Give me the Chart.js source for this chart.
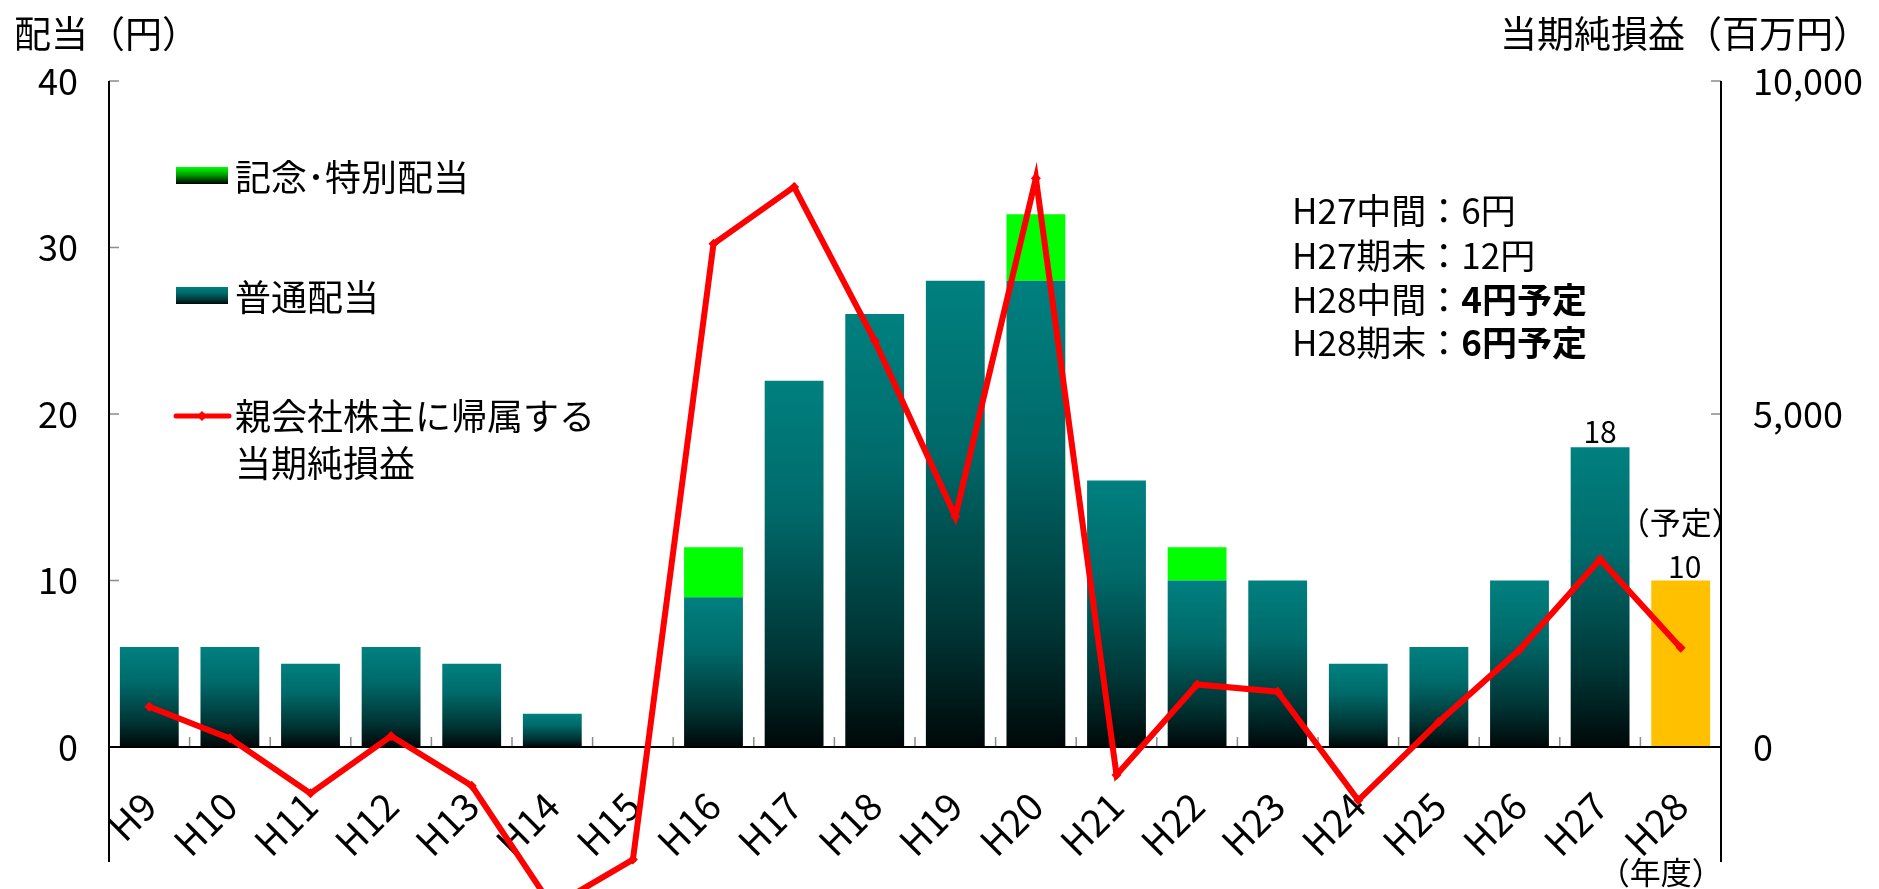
<!DOCTYPE html>
<html>
<head>
<meta charset="utf-8">
<script src="https://cdn.jsdelivr.net/npm/chart.js@4/dist/chart.umd.min.js"></script>
<style>
html,body{margin:0;padding:0;background:#fff;}
#wrap{width:1879px;height:889px;position:relative;}
</style>
</head>
<body>
<div id="wrap"><canvas id="c" width="1879" height="889"></canvas></div>
<script>
// ---- data ----
const categories = ['H9','H10','H11','H12','H13','H14','H15','H16','H17','H18','H19','H20','H21','H22','H23','H24','H25','H26','H27','H28'];
const ordinaryDividend = [6,6,5,6,5,2,0,9,22,26,28,28,16,10,10,5,6,10,18,null];
const plannedDividend  = [null,null,null,null,null,null,null,null,null,null,null,null,null,null,null,null,null,null,null,10];
const specialDividend  = [null,null,null,null,null,null,null,3,null,null,null,4,null,2,null,null,null,null,null,null];
const netIncome = [605,130,-696,165,-580,-2400,-1690,7555,8410,6100,3460,8540,-420,940,830,-800,380,1460,2820,1490];
const leftTicks = [0,10,20,30,40];
const rightTicks = [0,5000,10000];
const leftTitle = '配当（円）';
const rightTitle = '当期純損益（百万円）';
const legendLabels = ['記念･特別配当','普通配当','親会社株主に帰属する','当期純損益'];
const noteLines = [
  ['H27中間：6円',''],
  ['H27期末：12円',''],
  ['H28中間：','4円予定'],
  ['H28期末：','6円予定']
];

const FONT = '"Noto Sans CJK JP","Noto Sans",sans-serif';
Chart.defaults.font.family = FONT;
Chart.defaults.color = '#000';

function tealGradient(c, yTop, yBot){
  const g = c.createLinearGradient(0, yTop, 0, yBot);
  g.addColorStop(0, '#008080');
  g.addColorStop(0.35, '#006a6a');
  g.addColorStop(0.75, '#003535');
  g.addColorStop(1, '#000808');
  return g;
}

const ordinaryColor = (ctx) => {
  const chart = ctx.chart;
  if (!chart.chartArea || ctx.type !== 'data' || ctx.raw == null) return '#008080';
  const y = chart.scales.y;
  return tealGradient(chart.ctx, y.getPixelForValue(ctx.raw), y.getPixelForValue(0));
};

const axesPlugin = {
  id: 'axesPlugin',
  beforeDatasetDraw(chart, args){
    if (args.meta.type !== 'line') return;
    const c = chart.ctx, a = chart.chartArea;
    const x = chart.scales.x, y = chart.scales.y, y2 = chart.scales.y2;
    const y0 = y.getPixelForValue(0);
    c.save();
    c.strokeStyle = '#8c8c8c'; c.lineWidth = 1.5;
    c.beginPath();
    leftTicks.forEach(v => { const p = y.getPixelForValue(v); c.moveTo(a.left, p); c.lineTo(a.left + 10, p); });
    rightTicks.forEach(v => { const p = y2.getPixelForValue(v); c.moveTo(a.right - 10, p); c.lineTo(a.right, p); });
    const n = categories.length;
    const w = (a.right - a.left) / n;
    for (let i = 0; i <= n; i++) {
      const px = i < n ? x.getPixelForValue(i) - w / 2 : x.getPixelForValue(n - 1) + w / 2;
      c.moveTo(px, y0 - 10); c.lineTo(px, y0);
    }
    c.stroke();
    c.strokeStyle = '#000'; c.lineWidth = 2;
    c.beginPath();
    c.moveTo(a.left, a.top); c.lineTo(a.left, a.bottom);
    c.moveTo(a.right, a.top); c.lineTo(a.right, a.bottom);
    c.moveTo(a.left, y0); c.lineTo(a.right, y0);
    c.stroke();
    c.restore();
  }
};

const textPlugin = {
  id: 'textPlugin',
  afterDraw(chart){
    const c = chart.ctx;
    const x = chart.scales.x, y = chart.scales.y;
    c.save();
    c.fillStyle = '#000';
    c.textBaseline = 'middle';
    c.font = '37px ' + FONT;
    c.textAlign = 'left';
    c.fillText(leftTitle, 14, 34);
    c.fillText(rightTitle, 1500, 34);
    let g = c.createLinearGradient(0, 167, 0, 184);
    g.addColorStop(0, '#00ff00'); g.addColorStop(0.45, '#00a000'); g.addColorStop(1, '#000000');
    c.fillStyle = g; c.fillRect(176, 167, 52, 17);
    c.fillStyle = tealGradient(c, 287, 304); c.fillRect(176, 287, 52, 17);
    c.strokeStyle = '#ff0000'; c.lineWidth = 5; c.lineCap = 'round';
    c.beginPath(); c.moveTo(176, 416); c.lineTo(229, 416); c.stroke();
    c.fillStyle = '#ff0000';
    c.beginPath(); c.moveTo(202, 411); c.lineTo(207, 416); c.lineTo(202, 421); c.lineTo(197, 416); c.closePath(); c.fill();
    c.fillStyle = '#000';
    c.font = '36px ' + FONT;
    c.fillText(legendLabels[0], 235, 177);
    c.fillText(legendLabels[1], 235, 297);
    c.fillText(legendLabels[2], 235, 416);
    c.fillText(legendLabels[3], 235, 463);
    const lineY = [211, 256, 300, 343];
    noteLines.forEach((ln, i) => {
      c.font = '35px ' + FONT;
      c.fillText(ln[0], 1292, lineY[i]);
      const w0 = c.measureText(ln[0]).width;
      if (ln[1]) {
        c.font = 'bold 35px ' + FONT;
        c.fillText(ln[1], 1292 + w0, lineY[i]);
      }
    });
    c.textAlign = 'center';
    c.font = '30px ' + FONT;
    const i27 = 18, i28 = 19;
    c.fillText(String(ordinaryDividend[i27]), x.getPixelForValue(i27), y.getPixelForValue(ordinaryDividend[i27]) - 16);
    c.fillText(String(plannedDividend[i28]), x.getPixelForValue(i28) + 4, y.getPixelForValue(plannedDividend[i28]) - 14);
    c.font = '31px ' + FONT;
    c.fillText('（予定）', x.getPixelForValue(i28), y.getPixelForValue(plannedDividend[i28]) - 58);
    c.fillText('（年度）', x.getPixelForValue(i28) - 20, 872);
    c.restore();
  }
};

new Chart(document.getElementById('c'), {
  type: 'bar',
  data: {
    labels: categories,
    datasets: [
      {
        type: 'line',
        label: '親会社株主に帰属する当期純損益',
        data: netIncome,
        yAxisID: 'y2',
        borderColor: '#ff0000',
        backgroundColor: '#ff0000',
        borderWidth: 6,
        pointStyle: 'rectRot',
        pointRadius: 5,
        pointBorderWidth: 0,
        pointBackgroundColor: '#ff0000',
        tension: 0,
        clip: false,
        order: 0
      },
      {
        label: '普通配当',
        data: ordinaryDividend,
        backgroundColor: ordinaryColor,
        stack: 'div', yAxisID: 'y', order: 1,
        barPercentage: 0.73, categoryPercentage: 1
      },
      {
        label: '予定',
        data: plannedDividend,
        backgroundColor: '#ffc000',
        stack: 'div', yAxisID: 'y', order: 1,
        barPercentage: 0.73, categoryPercentage: 1
      },
      {
        label: '記念･特別配当',
        data: specialDividend,
        backgroundColor: '#00ff00',
        stack: 'div', yAxisID: 'y', order: 1,
        barPercentage: 0.73, categoryPercentage: 1
      }
    ]
  },
  options: {
    responsive: false,
    animation: false,
    layout: { padding: { top: 81, bottom: 27, left: 0, right: 0 } },
    plugins: { legend: { display: false }, tooltip: { enabled: false } },
    scales: {
      x: {
        stacked: true,
        position: { y: 0 },
        grid: { display: false, drawTicks: false },
        border: { display: false },
        ticks: { autoSkip: false, minRotation: 45, maxRotation: 45, padding: 36, font: { size: 38 }, color: '#000' }
      },
      y: {
        stacked: true,
        position: 'left',
        min: -6.907, max: 40,
        afterBuildTicks: s => { s.ticks = leftTicks.map(v => ({ value: v })); },
        afterFit: s => { s.width = 109; s.paddingTop = 0; s.paddingBottom = 0; },
        grid: { display: false, drawTicks: false },
        border: { display: false },
        ticks: { padding: 31, font: { size: 36 }, color: '#000' }
      },
      y2: {
        position: 'right',
        min: -1726.7, max: 10000,
        afterBuildTicks: s => { s.ticks = rightTicks.map(v => ({ value: v })); },
        afterFit: s => { s.width = 158; s.paddingTop = 0; s.paddingBottom = 0; },
        grid: { display: false, drawTicks: false },
        border: { display: false },
        ticks: { padding: 32, font: { size: 36 }, color: '#000', callback: v => Number(v).toLocaleString('en-US') }
      }
    }
  },
  plugins: [axesPlugin, textPlugin]
});
</script>
</body>
</html>
